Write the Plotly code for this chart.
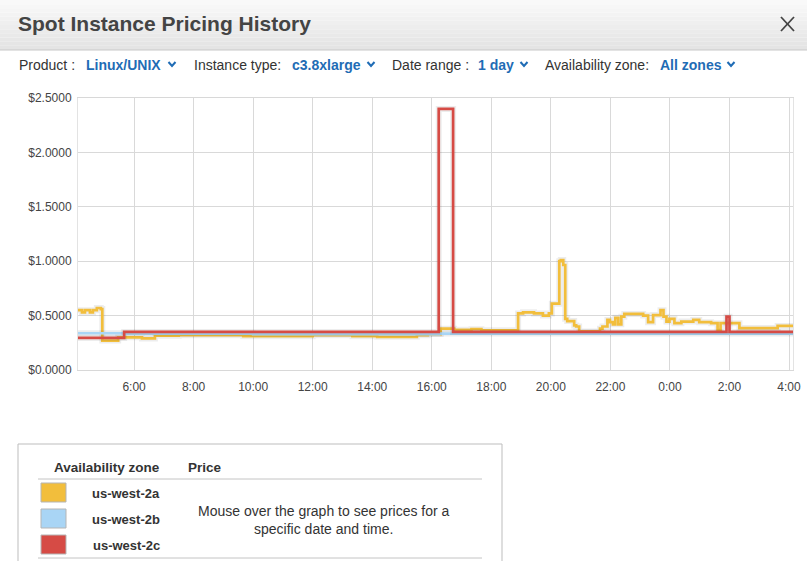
import plotly.graph_objects as go

# -----------------------------
# Data
# -----------------------------
zone_names = ["us-west-2a", "us-west-2b", "us-west-2c"]
zone_colors = ["#F2BE3C", "#A9D5F5", "#D64B45"]

# us-west-2a
west2a_time = [
    "2014-01-13 04:07", "2014-01-13 04:15", "2014-01-13 04:21", "2014-01-13 04:31",
    "2014-01-13 04:37", "2014-01-13 04:45", "2014-01-13 04:53", "2014-01-13 04:56",
    "2014-01-13 05:28", "2014-01-13 06:16", "2014-01-13 06:42", "2014-01-13 07:30",
    "2014-01-13 09:40", "2014-01-13 12:00", "2014-01-13 13:20", "2014-01-13 14:10",
    "2014-01-13 15:30", "2014-01-13 15:52", "2014-01-13 16:18", "2014-01-13 16:45",
    "2014-01-13 17:20", "2014-01-13 17:40", "2014-01-13 18:54", "2014-01-13 19:04",
    "2014-01-13 19:26", "2014-01-13 19:44", "2014-01-13 19:56", "2014-01-13 20:02",
    "2014-01-13 20:17", "2014-01-13 20:20", "2014-01-13 20:25", "2014-01-13 20:29",
    "2014-01-13 20:33", "2014-01-13 20:47", "2014-01-13 20:51", "2014-01-13 20:57",
    "2014-01-13 21:39", "2014-01-13 21:44", "2014-01-13 21:54", "2014-01-13 21:59",
    "2014-01-13 22:05", "2014-01-13 22:10", "2014-01-13 22:16", "2014-01-13 22:22",
    "2014-01-13 22:28", "2014-01-13 23:06", "2014-01-13 23:16", "2014-01-13 23:26",
    "2014-01-13 23:41", "2014-01-13 23:47", "2014-01-13 23:53", "2014-01-13 23:59",
    "2014-01-14 00:09", "2014-01-14 00:23", "2014-01-14 00:47", "2014-01-14 00:59",
    "2014-01-14 01:23", "2014-01-14 01:36", "2014-01-14 01:42", "2014-01-14 02:20",
    "2014-01-14 03:37", "2014-01-14 04:08",
]
west2a_price = [
    0.55, 0.53, 0.55, 0.53,
    0.55, 0.57, 0.56, 0.27,
    0.30, 0.29, 0.315, 0.32,
    0.31, 0.32, 0.31, 0.305,
    0.32, 0.33, 0.38, 0.37,
    0.375, 0.365, 0.52, 0.53,
    0.52, 0.50, 0.52, 0.61,
    1.00, 1.01, 0.965, 0.47,
    0.45, 0.41, 0.40, 0.355,
    0.38, 0.40, 0.46, 0.44,
    0.42, 0.48, 0.42, 0.49,
    0.515, 0.50, 0.44, 0.505,
    0.55, 0.49, 0.445, 0.47,
    0.43, 0.445, 0.46, 0.44,
    0.43, 0.37, 0.43, 0.385,
    0.405, 0.405,
]

# us-west-2b
west2b_time = ["2014-01-13 04:07", "2014-01-13 05:40", "2014-01-13 10:00",
               "2014-01-13 16:14", "2014-01-14 04:08"]
west2b_price = [0.338, 0.335, 0.33, 0.335, 0.33]

# us-west-2c
west2c_time = ["2014-01-13 04:07", "2014-01-13 05:40", "2014-01-13 16:14",
               "2014-01-13 16:43", "2014-01-14 01:54", "2014-01-14 02:00",
               "2014-01-14 04:08"]
west2c_price = [0.295, 0.35, 2.40, 0.35, 0.49, 0.35, 0.35]

x_range = ["2014-01-13 04:07", "2014-01-14 04:08"]
y_ticks = [0, 0.5, 1.0, 1.5, 2.0, 2.5]

filters = [("Product :", "Linux/UNIX"), ("Instance type:", "c3.8xlarge"),
           ("Date range :", "1 day"), ("Availability zone:", "All zones")]

# -----------------------------
# Page helpers (pixel -> paper)
# -----------------------------
W, H = 807, 561
FONT = "Helvetica Neue, Helvetica, Arial, Liberation Sans, sans-serif"
BLUE = "#1F6CB5"


def px(x):
    return x / W


def py(y):
    return 1 - y / H


fig = go.Figure()

series = [(west2a_time, west2a_price), (west2b_time, west2b_price),
          (west2c_time, west2c_price)]

# soft shadow under each line, then the line itself
for (t, p), name, color in zip(series, zone_names, zone_colors):
    fig.add_scatter(x=t, y=p, mode="lines", line_shape="hv",
                    line=dict(color="rgba(0,0,0,0.07)", width=6),
                    hoverinfo="skip", showlegend=False)
    fig.add_scatter(x=t, y=p, mode="lines", line_shape="hv", name=name,
                    line=dict(color=color, width=2.7), showlegend=False)

fig.update_xaxes(
    type="date", range=x_range, domain=[px(78), px(793)], automargin=False,
    tick0="2014-01-13 00:00", dtick=2 * 3600 * 1000, tickformat="%-H:%M",
    showgrid=True, gridcolor="#d9d9d9", gridwidth=1,
    showline=True, linecolor="#d8d8d8", mirror=True,
    ticks="", ticklabelstandoff=6, zeroline=False,
    tickfont=dict(size=12, color="#444"),
)
fig.update_yaxes(
    range=[0, 2.5], domain=[py(370), py(98)], automargin=False,
    tickvals=y_ticks, tickformat="$.4f",
    showgrid=True, gridcolor="#d9d9d9", gridwidth=1,
    showline=True, linecolor="#e3e3e3", mirror=True,
    ticks="", ticklabelstandoff=3, zeroline=False,
    tickfont=dict(size=12, color="#444"),
)

shapes = []
annotations = []

# title bar with a light grey gradient
steps = 12
for i in range(steps):
    g = int(249 - (249 - 228) * i / (steps - 1))
    shapes.append(dict(type="rect", xref="paper", yref="paper",
                       x0=0, x1=1, y0=py(50 * (i + 1) / steps), y1=py(50 * i / steps),
                       fillcolor=f"rgb({g},{g},{g})", line=dict(width=0), layer="below"))
shapes.append(dict(type="line", xref="paper", yref="paper", x0=0, x1=1,
                   y0=py(50), y1=py(50), line=dict(color="#c8c8c8", width=1)))

annotations.append(dict(text="<b>Spot Instance Pricing History</b>", x=px(16), y=py(24),
                        xref="paper", yref="paper", xanchor="left", yanchor="middle",
                        showarrow=False, font=dict(size=21, color="#444", family=FONT)))
# close cross
for x0, y0, x1, y1 in [(781, 17, 794, 31), (781, 31, 794, 17)]:
    shapes.append(dict(type="line", xref="paper", yref="paper", x0=px(x0), x1=px(x1),
                       y0=py(y0), y1=py(y1), line=dict(color="#444", width=1.8)))

# filter row
label_x = [17, 192, 390, 543]
value_x = [84, 290, 476, 658]
caret_x = [172, 371, 524, 731]
for (lab, val), lx, vx, cx in zip(filters, label_x, value_x, caret_x):
    annotations.append(dict(text=lab, x=px(lx), y=py(65), xref="paper", yref="paper",
                            xanchor="left", yanchor="middle", showarrow=False,
                            font=dict(size=14, color="#333", family=FONT)))
    annotations.append(dict(text=f"<b>{val}</b>", x=px(vx), y=py(65), xref="paper",
                            yref="paper", xanchor="left", yanchor="middle",
                            showarrow=False, font=dict(size=14, color=BLUE, family=FONT)))
    shapes.append(dict(type="path", xref="paper", yref="paper",
                       path=f"M {px(cx - 3.5)} {py(62)} L {px(cx)} {py(66)} L {px(cx + 3.5)} {py(62)}",
                       line=dict(color=BLUE, width=2)))

# legend table
shapes.append(dict(type="rect", xref="paper", yref="paper", x0=px(18), x1=px(502),
                   y0=py(566), y1=py(444), line=dict(color="#bdbdbd", width=1)))
for ly in [479, 558]:
    shapes.append(dict(type="line", xref="paper", yref="paper", x0=px(38), x1=px(482),
                       y0=py(ly), y1=py(ly), line=dict(color="#c4c4c4", width=1)))
annotations.append(dict(text="<b>Availability zone</b>", x=px(162), y=py(467), xref="paper",
                        yref="paper", xanchor="right", yanchor="middle", showarrow=False,
                        font=dict(size=13.5, color="#333", family=FONT)))
annotations.append(dict(text="<b>Price</b>", x=px(186), y=py(467), xref="paper",
                        yref="paper", xanchor="left", yanchor="middle", showarrow=False,
                        font=dict(size=13.5, color="#333", family=FONT)))
for i, (name, color) in enumerate(zip(zone_names, zone_colors)):
    top = 483 + 26 * i
    shapes.append(dict(type="rect", xref="paper", yref="paper", x0=px(41), x1=px(66),
                       y0=py(top + 19), y1=py(top), fillcolor=color,
                       line=dict(color="#b5b5b5", width=1)))
    annotations.append(dict(text=f"<b>{name}</b>", x=px(162), y=py(top + 10), xref="paper",
                            yref="paper", xanchor="right", yanchor="middle",
                            showarrow=False, font=dict(size=13, color="#333", family=FONT)))
annotations.append(dict(text="Mouse over the graph to see prices for a<br>specific date and time.",
                        x=px(324), y=py(520), xref="paper", yref="paper", xanchor="center",
                        yanchor="middle", align="center", showarrow=False,
                        font=dict(size=14, color="#333", family=FONT)))

fig.update_layout(
    width=W, height=H,
    margin=dict(l=0, r=0, t=0, b=0, pad=0),
    paper_bgcolor="white", plot_bgcolor="white",
    font=dict(family=FONT, color="#444"),
    shapes=shapes, annotations=annotations,
    showlegend=False,
)

# the page body has a default 8px margin; drop it so the figure sits at the window origin
fig.write_html("out.html", config={"displayModeBar": False},
               post_script="document.body.style.margin = '0';")
